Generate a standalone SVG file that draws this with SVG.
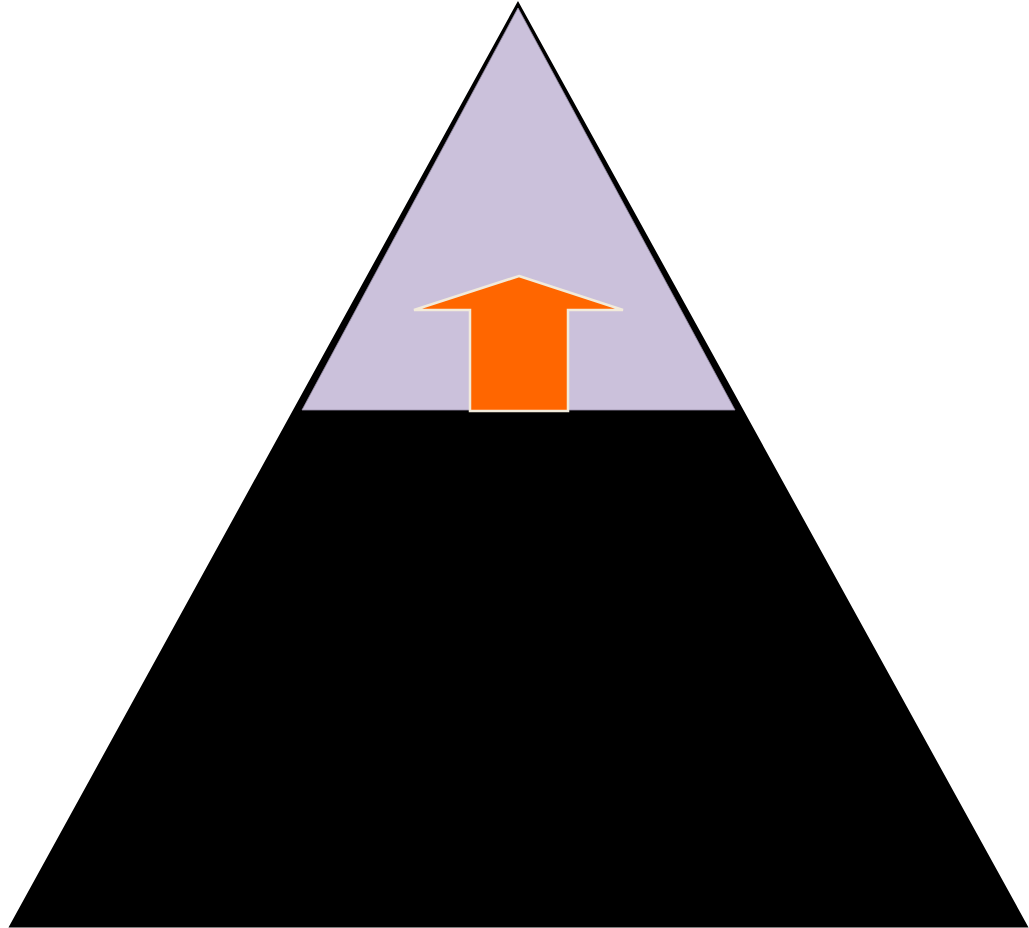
<svg xmlns="http://www.w3.org/2000/svg" width="1029" height="928" viewBox="0 0 1029 928">
  <style>
    .outer { fill: #000000; stroke: #000000; stroke-width: 3; stroke-linejoin: miter; }
    .top { fill: #CBC1DB; stroke: #9A90AA; stroke-width: 0.8; }
    .arrow { fill: #FF6600; stroke: #F2EBDB; stroke-width: 2.5; stroke-linejoin: miter; }
  </style>
  <rect width="1029" height="928" fill="#FFFFFF"/>
  <g id="pyramid">
    <polygon class="outer" points="518,4 11,926 1026,926"/>
  </g>
  <g id="top-section">
    <polygon class="top" points="518,8 302,410 735,410"/>
  </g>
  <g id="up-arrow">
    <polygon class="arrow" points="519,276 623,310 568,310 568,411 470,411 470,310 414,310"/>
  </g>
  <g id="connectors"></g>
</svg>
